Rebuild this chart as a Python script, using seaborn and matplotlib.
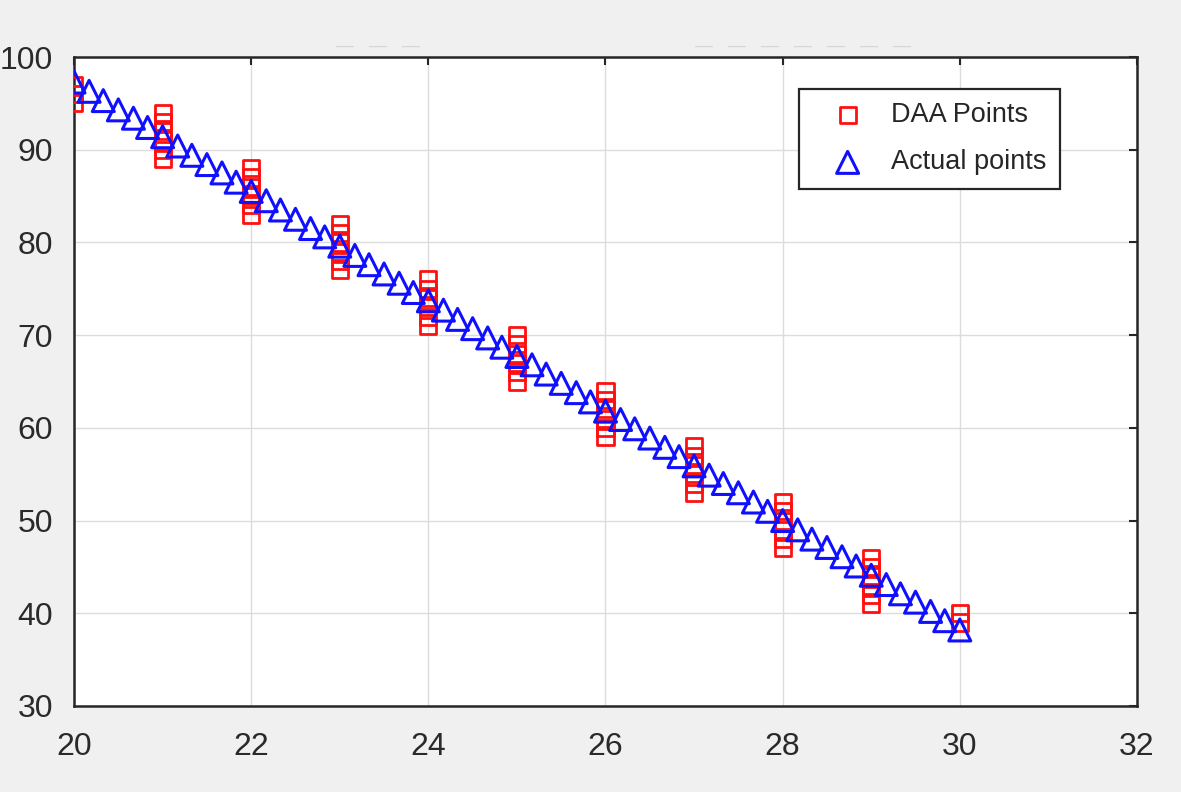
import matplotlib
matplotlib.use("Agg")
import matplotlib.pyplot as plt
import seaborn as sns
import pandas as pd

# actual points (blue triangles)
actual_x = [20.00, 20.17, 20.33, 20.50, 20.67, 20.83,
            21.00, 21.17, 21.33, 21.50, 21.67, 21.83,
            22.00, 22.17, 22.33, 22.50, 22.67, 22.83,
            23.00, 23.17, 23.33, 23.50, 23.67, 23.83,
            24.00, 24.17, 24.33, 24.50, 24.67, 24.83,
            25.00, 25.17, 25.33, 25.50, 25.67, 25.83,
            26.00, 26.17, 26.33, 26.50, 26.67, 26.83,
            27.00, 27.17, 27.33, 27.50, 27.67, 27.83,
            28.00, 28.17, 28.33, 28.50, 28.67, 28.83,
            29.00, 29.17, 29.33, 29.50, 29.67, 29.83,
            30.00]
actual_y = [97.3, 96.3, 95.3, 94.3, 93.4, 92.4,
            91.4, 90.4, 89.4, 88.4, 87.5, 86.5,
            85.5, 84.5, 83.5, 82.5, 81.5, 80.6,
            79.6, 78.6, 77.6, 76.6, 75.6, 74.6,
            73.7, 72.7, 71.7, 70.7, 69.7, 68.7,
            67.7, 66.8, 65.8, 64.8, 63.8, 62.8,
            61.8, 60.9, 59.9, 58.9, 57.9, 56.9,
            55.9, 54.9, 54.0, 53.0, 52.0, 51.0,
            50.0, 49.0, 48.0, 47.1, 46.1, 45.1,
            44.1, 43.1, 42.1, 41.2, 40.2, 39.2,
            38.2]

# DAA points (red squares), stacked at each integer x
daa_x = [20, 20, 20,
         21, 21, 21, 21, 21, 21,
         22, 22, 22, 22, 22, 22,
         23, 23, 23, 23, 23, 23,
         24, 24, 24, 24, 24, 24,
         25, 25, 25, 25, 25, 25,
         26, 26, 26, 26, 26, 26,
         27, 27, 27, 27, 27, 27,
         28, 28, 28, 28, 28, 28,
         29, 29, 29, 29, 29, 29,
         30, 30]
daa_y = [95, 96, 97,
         89, 90, 91, 92, 93, 94,
         83, 84, 85, 86, 87, 88,
         77, 78, 79, 80, 81, 82,
         71, 72, 73, 74, 75, 76,
         65, 66, 67, 68, 69, 70,
         59, 60, 61, 62, 63, 64,
         53, 54, 55, 56, 57, 58,
         47, 48, 49, 50, 51, 52,
         41, 42, 43, 44, 45, 46,
         39, 40]

x_ticks = [20, 22, 24, 26, 28, 30, 32]
y_ticks = [30, 40, 50, 60, 70, 80, 90, 100]

sns.set_theme(style="whitegrid")
plt.rcParams['font.family'] = ['Liberation Sans', 'DejaVu Sans']

fig = plt.figure(figsize=(11.81, 7.92), dpi=100, facecolor='#f0f0f0')
ax = fig.add_axes([0.0627, 0.1086, 0.9, 0.8194])
ax.set_facecolor('white')

df_daa = pd.DataFrame({'x': daa_x, 'y': daa_y})
df_act = pd.DataFrame({'x': actual_x, 'y': actual_y})

sns.scatterplot(data=df_daa, x='x', y='y', marker='s', s=135, facecolor='none',
                edgecolor='#ff1010', linewidth=2.0, label='DAA Points', ax=ax, zorder=3)
sns.scatterplot(data=df_act, x='x', y='y', marker='^', s=250, facecolor='none',
                edgecolor='#1010ff', linewidth=2.2, label='Actual points', ax=ax, zorder=4)

ax.set_xlim(20, 32)
ax.set_ylim(30, 100)
ax.set_xticks(x_ticks)
ax.set_yticks(y_ticks)
ax.set_xlabel('')
ax.set_ylabel('')
ax.grid(True, color='#dcdcdc', linewidth=1.0)

for sp in ax.spines.values():
    sp.set_color('#262626')
    sp.set_linewidth(1.8)

ax.tick_params(axis='both', direction='in', length=6, width=1.5, color='#262626',
               top=True, right=True, labelsize=23, labelcolor='#2a2a2a')
ax.tick_params(axis='x', pad=19)
ax.tick_params(axis='y', pad=15)

leg = ax.legend(loc='upper right', bbox_to_anchor=(0.9275, 0.951), borderaxespad=0,
                fontsize=19.5, frameon=True, fancybox=False, edgecolor='#262626',
                framealpha=1, handletextpad=0.3, borderpad=0.5, labelspacing=0.78,
                handlelength=2.6)
leg.get_frame().set_linewidth(1.6)

# faint dashes above the axes in the source image
fig.text(0.32, 0.936, '\u2014   \u2014   \u2014', color='#d6d6d6', fontsize=13, ha='center')
fig.text(0.68, 0.936, '\u2014   \u2014   \u2014   \u2014   \u2014   \u2014   \u2014',
         color='#d6d6d6', fontsize=13, ha='center')

fig.savefig('out.png', dpi=100, facecolor=fig.get_facecolor())
